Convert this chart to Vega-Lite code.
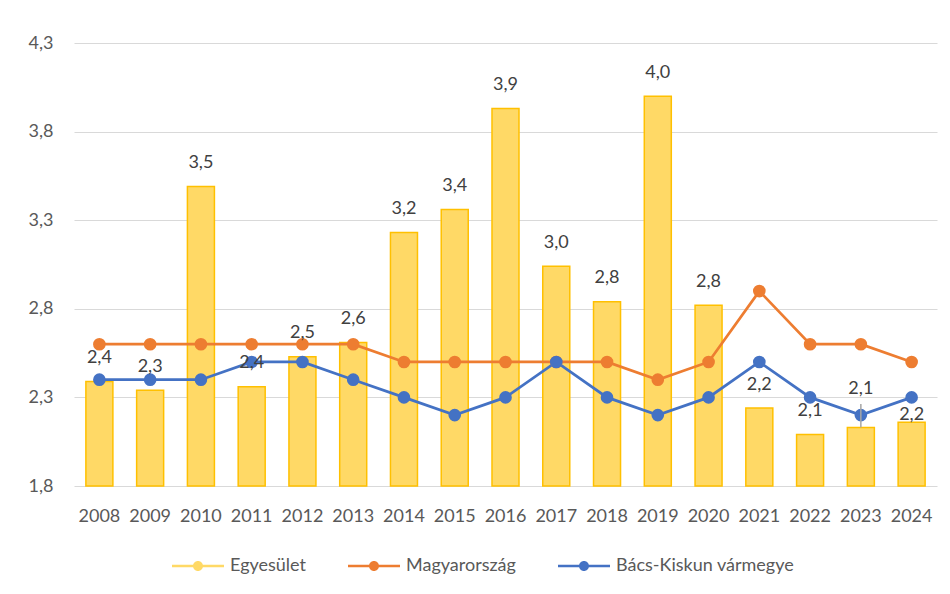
{
  "$schema": "https://vega.github.io/schema/vega-lite/v6.json",
  "width": 863,
  "height": 443,
  "autosize": {"type": "none"},
  "padding": {"left": 74, "top": 43, "right": 13, "bottom": 108},
  "background": "white",
  "config": {
    "locale": {"number": {"decimal": ",", "thousands": " ", "grouping": [3], "currency": ["", ""]}},
    "font": "Lato",
    "view": {"stroke": null},
    "axisX": {"domain": false, "ticks": false, "tickSize": 0, "labelPadding": 21, "labelAngle": 0, "labelFontSize": 18, "labelColor": "#595959", "labelFont": "Lato", "grid": false, "title": null},
    "axisY": {"domain": false, "ticks": false, "tickSize": 0, "labelPadding": 21, "labelFontSize": 18, "labelColor": "#595959", "labelFont": "Lato", "grid": true, "gridColor": "#D9D9D9", "gridWidth": 1.2, "title": null}
  },
  "data": {
    "values": [
      {"ev": "2008", "Egyesület": 2.39, "Magyarország": 2.6, "Bács-Kiskun vármegye": 2.4},
      {"ev": "2009", "Egyesület": 2.34, "Magyarország": 2.6, "Bács-Kiskun vármegye": 2.4},
      {"ev": "2010", "Egyesület": 3.49, "Magyarország": 2.6, "Bács-Kiskun vármegye": 2.4},
      {"ev": "2011", "Egyesület": 2.36, "Magyarország": 2.6, "Bács-Kiskun vármegye": 2.5},
      {"ev": "2012", "Egyesület": 2.53, "Magyarország": 2.6, "Bács-Kiskun vármegye": 2.5},
      {"ev": "2013", "Egyesület": 2.61, "Magyarország": 2.6, "Bács-Kiskun vármegye": 2.4},
      {"ev": "2014", "Egyesület": 3.23, "Magyarország": 2.5, "Bács-Kiskun vármegye": 2.3},
      {"ev": "2015", "Egyesület": 3.36, "Magyarország": 2.5, "Bács-Kiskun vármegye": 2.2},
      {"ev": "2016", "Egyesület": 3.93, "Magyarország": 2.5, "Bács-Kiskun vármegye": 2.3},
      {"ev": "2017", "Egyesület": 3.04, "Magyarország": 2.5, "Bács-Kiskun vármegye": 2.5},
      {"ev": "2018", "Egyesület": 2.84, "Magyarország": 2.5, "Bács-Kiskun vármegye": 2.3},
      {"ev": "2019", "Egyesület": 4.0, "Magyarország": 2.4, "Bács-Kiskun vármegye": 2.2},
      {"ev": "2020", "Egyesület": 2.82, "Magyarország": 2.5, "Bács-Kiskun vármegye": 2.3},
      {"ev": "2021", "Egyesület": 2.24, "Magyarország": 2.9, "Bács-Kiskun vármegye": 2.5},
      {"ev": "2022", "Egyesület": 2.09, "Magyarország": 2.6, "Bács-Kiskun vármegye": 2.3},
      {"ev": "2023", "Egyesület": 2.13, "Magyarország": 2.6, "Bács-Kiskun vármegye": 2.2},
      {"ev": "2024", "Egyesület": 2.16, "Magyarország": 2.5, "Bács-Kiskun vármegye": 2.3}
    ]
  },
  "layer": [
    {
      "mark": {"type": "bar", "fill": "#FFD966", "stroke": "#FFC000", "strokeWidth": 1.5},
      "encoding": {
        "x": {"field": "ev", "type": "ordinal", "title": null, "scale": {"paddingInner": 0.468, "paddingOuter": 0.234}},
        "y": {"field": "Egyesület", "type": "quantitative", "title": null, "scale": {"domain": [1.8, 4.3], "nice": false, "zero": false}, "axis": {"values": [1.8, 2.3, 2.8, 3.3, 3.8, 4.3], "format": ".1f"}},
        "y2": {"datum": 1.8}
      }
    },
    {
      "transform": [{"fold": ["Magyarország", "Bács-Kiskun vármegye"], "as": ["sorozat", "ertek"]}],
      "mark": {"type": "line", "strokeWidth": 2.75},
      "encoding": {
        "x": {"field": "ev", "type": "ordinal"},
        "y": {"field": "ertek", "type": "quantitative"},
        "stroke": {"field": "sorozat", "type": "nominal", "scale": {"domain": ["Magyarország", "Bács-Kiskun vármegye"], "range": ["#ED7D31", "#4472C4"]}, "legend": null}
      }
    },
    {
      "transform": [{"fold": ["Magyarország", "Bács-Kiskun vármegye"], "as": ["sorozat", "ertek"]}],
      "mark": {"type": "point", "size": 160, "filled": true, "opacity": 1},
      "encoding": {
        "x": {"field": "ev", "type": "ordinal"},
        "y": {"field": "ertek", "type": "quantitative"},
        "color": {
          "field": "sorozat",
          "type": "nominal",
          "scale": {"domain": ["Egyesület", "Magyarország", "Bács-Kiskun vármegye"], "range": ["#FFD966", "#ED7D31", "#4472C4"]},
          "legend": {
            "orient": "none",
            "legendX": 98,
            "legendY": 512,
            "direction": "horizontal",
            "title": null,
            "symbolSize": 400,
            "symbolStrokeWidth": 1.5,
            "symbolType": "M-2.6,-0.13H2.6V0.13H-2.6Z M0.5,0A0.5,0.5 0 1,1 -0.5,0A0.5,0.5 0 1,1 0.5,0Z",
            "symbolOffset": 15,
            "labelOffset": 21,
            "columnPadding": 42,
            "labelFont": "Lato",
            "labelFontSize": 18,
            "labelColor": "#595959",
            "labelLimit": 400
          }
        }
      }
    },
    {
      "transform": [{"filter": "datum.ev === '2023'"}],
      "mark": {"type": "rule", "color": "#A6A6A6", "strokeWidth": 1.5},
      "encoding": {
        "x": {"field": "ev", "type": "ordinal"},
        "y": {"field": "Egyesület", "type": "quantitative"},
        "y2": {"datum": 2.2625}
      }
    },
    {
      "transform": [{"filter": "datum.ev !== '2023' && datum.ev !== '2024'"}],
      "mark": {"type": "text", "dy": -23.5, "fontSize": 18, "font": "Lato", "color": "#404040", "baseline": "middle"},
      "encoding": {
        "x": {"field": "ev", "type": "ordinal"},
        "y": {"field": "Egyesület", "type": "quantitative"},
        "text": {"field": "Egyesület", "type": "quantitative", "format": ".1f"}
      }
    },
    {
      "transform": [{"filter": "datum.ev === '2023'"}],
      "mark": {"type": "text", "dy": -39, "fontSize": 18, "font": "Lato", "color": "#404040", "baseline": "middle"},
      "encoding": {
        "x": {"field": "ev", "type": "ordinal"},
        "y": {"field": "Egyesület", "type": "quantitative"},
        "text": {"field": "Egyesület", "type": "quantitative", "format": ".1f"}
      }
    },
    {
      "transform": [{"filter": "datum.ev === '2024'"}],
      "mark": {"type": "text", "dy": -7, "fontSize": 18, "font": "Lato", "color": "#404040", "baseline": "middle"},
      "encoding": {
        "x": {"field": "ev", "type": "ordinal"},
        "y": {"field": "Egyesület", "type": "quantitative"},
        "text": {"field": "Egyesület", "type": "quantitative", "format": ".1f"}
      }
    }
  ]
}
